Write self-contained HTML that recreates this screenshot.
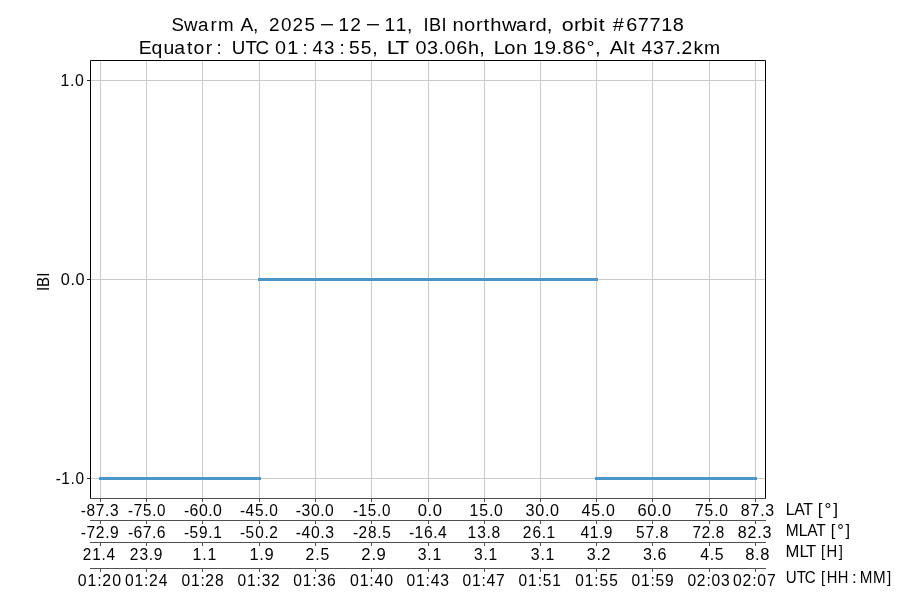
<!DOCTYPE html>
<html><head><meta charset="utf-8"><title>IBI plot</title>
<style>html,body{margin:0;padding:0;background:#fff;width:900px;height:600px;overflow:hidden}svg{display:block;will-change:transform}text{font-family:"Liberation Sans",sans-serif}</style>
</head><body><svg width="900" height="600" viewBox="0 0 900 600"><rect width="900" height="600" fill="#fff"/><line x1="100.5" y1="60" x2="100.5" y2="499" stroke="#cbcbcb" stroke-width="1"/><line x1="146.5" y1="60" x2="146.5" y2="499" stroke="#cbcbcb" stroke-width="1"/><line x1="202.5" y1="60" x2="202.5" y2="499" stroke="#cbcbcb" stroke-width="1"/><line x1="259.5" y1="60" x2="259.5" y2="499" stroke="#cbcbcb" stroke-width="1"/><line x1="315.5" y1="60" x2="315.5" y2="499" stroke="#cbcbcb" stroke-width="1"/><line x1="371.5" y1="60" x2="371.5" y2="499" stroke="#cbcbcb" stroke-width="1"/><line x1="428.5" y1="60" x2="428.5" y2="499" stroke="#cbcbcb" stroke-width="1"/><line x1="484.5" y1="60" x2="484.5" y2="499" stroke="#cbcbcb" stroke-width="1"/><line x1="540.5" y1="60" x2="540.5" y2="499" stroke="#cbcbcb" stroke-width="1"/><line x1="596.5" y1="60" x2="596.5" y2="499" stroke="#cbcbcb" stroke-width="1"/><line x1="652.5" y1="60" x2="652.5" y2="499" stroke="#cbcbcb" stroke-width="1"/><line x1="709.5" y1="60" x2="709.5" y2="499" stroke="#cbcbcb" stroke-width="1"/><line x1="755.5" y1="60" x2="755.5" y2="499" stroke="#cbcbcb" stroke-width="1"/><line x1="90" y1="80.5" x2="766" y2="80.5" stroke="#cbcbcb" stroke-width="1"/><line x1="90" y1="279.5" x2="766" y2="279.5" stroke="#cbcbcb" stroke-width="1"/><line x1="90" y1="478.5" x2="766" y2="478.5" stroke="#cbcbcb" stroke-width="1"/><line x1="100.5" y1="478.5" x2="259.5" y2="478.5" stroke="#4a96c9" stroke-width="3" stroke-linecap="square"/><line x1="259.5" y1="279.5" x2="596.5" y2="279.5" stroke="#4a96c9" stroke-width="3" stroke-linecap="square"/><line x1="596.5" y1="478.5" x2="755.5" y2="478.5" stroke="#4a96c9" stroke-width="3" stroke-linecap="square"/><path d="M90.5 498 V60.5 H765.5 V498" fill="none" stroke="#000" stroke-width="1"/><line x1="90" y1="498.5" x2="766" y2="498.5" stroke="#505050" stroke-width="1"/><line x1="87" y1="80.5" x2="90" y2="80.5" stroke="#222" stroke-width="1"/><line x1="87" y1="279.5" x2="90" y2="279.5" stroke="#222" stroke-width="1"/><line x1="87" y1="478.5" x2="90" y2="478.5" stroke="#222" stroke-width="1"/><line x1="90" y1="520.5" x2="766" y2="520.5" stroke="#505050" stroke-width="1"/><line x1="90" y1="542.5" x2="766" y2="542.5" stroke="#505050" stroke-width="1"/><line x1="90" y1="568.5" x2="766" y2="568.5" stroke="#505050" stroke-width="1"/><line x1="100.5" y1="499" x2="100.5" y2="502" stroke="#505050" stroke-width="1"/><line x1="146.5" y1="499" x2="146.5" y2="502" stroke="#505050" stroke-width="1"/><line x1="202.5" y1="499" x2="202.5" y2="502" stroke="#505050" stroke-width="1"/><line x1="259.5" y1="499" x2="259.5" y2="502" stroke="#505050" stroke-width="1"/><line x1="315.5" y1="499" x2="315.5" y2="502" stroke="#505050" stroke-width="1"/><line x1="371.5" y1="499" x2="371.5" y2="502" stroke="#505050" stroke-width="1"/><line x1="428.5" y1="499" x2="428.5" y2="502" stroke="#505050" stroke-width="1"/><line x1="484.5" y1="499" x2="484.5" y2="502" stroke="#505050" stroke-width="1"/><line x1="540.5" y1="499" x2="540.5" y2="502" stroke="#505050" stroke-width="1"/><line x1="596.5" y1="499" x2="596.5" y2="502" stroke="#505050" stroke-width="1"/><line x1="652.5" y1="499" x2="652.5" y2="502" stroke="#505050" stroke-width="1"/><line x1="709.5" y1="499" x2="709.5" y2="502" stroke="#505050" stroke-width="1"/><line x1="755.5" y1="499" x2="755.5" y2="502" stroke="#505050" stroke-width="1"/><line x1="100.5" y1="521" x2="100.5" y2="524" stroke="#505050" stroke-width="1"/><line x1="146.5" y1="521" x2="146.5" y2="524" stroke="#505050" stroke-width="1"/><line x1="202.5" y1="521" x2="202.5" y2="524" stroke="#505050" stroke-width="1"/><line x1="259.5" y1="521" x2="259.5" y2="524" stroke="#505050" stroke-width="1"/><line x1="315.5" y1="521" x2="315.5" y2="524" stroke="#505050" stroke-width="1"/><line x1="371.5" y1="521" x2="371.5" y2="524" stroke="#505050" stroke-width="1"/><line x1="428.5" y1="521" x2="428.5" y2="524" stroke="#505050" stroke-width="1"/><line x1="484.5" y1="521" x2="484.5" y2="524" stroke="#505050" stroke-width="1"/><line x1="540.5" y1="521" x2="540.5" y2="524" stroke="#505050" stroke-width="1"/><line x1="596.5" y1="521" x2="596.5" y2="524" stroke="#505050" stroke-width="1"/><line x1="652.5" y1="521" x2="652.5" y2="524" stroke="#505050" stroke-width="1"/><line x1="709.5" y1="521" x2="709.5" y2="524" stroke="#505050" stroke-width="1"/><line x1="755.5" y1="521" x2="755.5" y2="524" stroke="#505050" stroke-width="1"/><line x1="100.5" y1="543" x2="100.5" y2="546" stroke="#505050" stroke-width="1"/><line x1="146.5" y1="543" x2="146.5" y2="546" stroke="#505050" stroke-width="1"/><line x1="202.5" y1="543" x2="202.5" y2="546" stroke="#505050" stroke-width="1"/><line x1="259.5" y1="543" x2="259.5" y2="546" stroke="#505050" stroke-width="1"/><line x1="315.5" y1="543" x2="315.5" y2="546" stroke="#505050" stroke-width="1"/><line x1="371.5" y1="543" x2="371.5" y2="546" stroke="#505050" stroke-width="1"/><line x1="428.5" y1="543" x2="428.5" y2="546" stroke="#505050" stroke-width="1"/><line x1="484.5" y1="543" x2="484.5" y2="546" stroke="#505050" stroke-width="1"/><line x1="540.5" y1="543" x2="540.5" y2="546" stroke="#505050" stroke-width="1"/><line x1="596.5" y1="543" x2="596.5" y2="546" stroke="#505050" stroke-width="1"/><line x1="652.5" y1="543" x2="652.5" y2="546" stroke="#505050" stroke-width="1"/><line x1="709.5" y1="543" x2="709.5" y2="546" stroke="#505050" stroke-width="1"/><line x1="755.5" y1="543" x2="755.5" y2="546" stroke="#505050" stroke-width="1"/><line x1="100.5" y1="569" x2="100.5" y2="572" stroke="#505050" stroke-width="1"/><line x1="146.5" y1="569" x2="146.5" y2="572" stroke="#505050" stroke-width="1"/><line x1="202.5" y1="569" x2="202.5" y2="572" stroke="#505050" stroke-width="1"/><line x1="259.5" y1="569" x2="259.5" y2="572" stroke="#505050" stroke-width="1"/><line x1="315.5" y1="569" x2="315.5" y2="572" stroke="#505050" stroke-width="1"/><line x1="371.5" y1="569" x2="371.5" y2="572" stroke="#505050" stroke-width="1"/><line x1="428.5" y1="569" x2="428.5" y2="572" stroke="#505050" stroke-width="1"/><line x1="484.5" y1="569" x2="484.5" y2="572" stroke="#505050" stroke-width="1"/><line x1="540.5" y1="569" x2="540.5" y2="572" stroke="#505050" stroke-width="1"/><line x1="596.5" y1="569" x2="596.5" y2="572" stroke="#505050" stroke-width="1"/><line x1="652.5" y1="569" x2="652.5" y2="572" stroke="#505050" stroke-width="1"/><line x1="709.5" y1="569" x2="709.5" y2="572" stroke="#505050" stroke-width="1"/><line x1="755.5" y1="569" x2="755.5" y2="572" stroke="#505050" stroke-width="1"/><g font-family="Liberation Sans, sans-serif" fill="#000"><text transform="translate(173.00,30.7) scale(1.0069,1)" x="-1.53 11.01 24.88 37.32 44.62" y="0" font-size="18.6">Swarm</text><text transform="translate(241.00,30.7) scale(1.0308,1)" x="-0.45 11.63" y="0" font-size="18.6">A,</text><text transform="translate(270.00,30.7) scale(1.0142,1)" x="-0.95 10.87 22.20 33.93" y="0" font-size="18.6">2025</text><text transform="translate(321.00,30.7) scale(1.3302,1)" x="-0.93" y="0" font-size="18.6">−</text><text transform="translate(340.00,30.7) scale(1.0257,1)" x="-1.41 10.09" y="0" font-size="18.6">12</text><text transform="translate(367.00,30.7) scale(1.3302,1)" x="-0.93" y="0" font-size="18.6">−</text><text transform="translate(386.00,30.7) scale(1.0292,1)" x="-1.58 9.59 20.38" y="0" font-size="18.6">11,</text><text transform="translate(425.00,30.7) scale(0.9814,1)" x="-1.63 3.98 16.89" y="0" font-size="18.6">IBI</text><text transform="translate(454.00,30.7) scale(1.0850,1)" x="-1.28 9.24 20.31 27.26 33.43 44.15 57.19 68.95 75.05 85.54" y="0" font-size="18.6">northward,</text><text transform="translate(563.00,30.7) scale(1.1514,1)" x="-1.09 9.57 15.75 26.21 31.06" y="0" font-size="18.6">orbit</text><text transform="translate(612.00,30.7) scale(1.0709,1)" x="0.69 13.32 24.16 35.05 45.89 56.81" y="0" font-size="18.6">#67718</text><text transform="translate(141.30,53.8) scale(1.0418,1)" x="-2.38 9.90 21.22 31.67 43.83 50.23 61.76" y="0" font-size="18.6">Equator</text><text transform="translate(217.70,53.8) scale(1.0000,1)" x="-1.28" y="0" font-size="18.6">:</text><text transform="translate(233.30,53.8) scale(1.0089,1)" x="-1.50 11.98 22.03" y="0" font-size="18.6">UTC</text><text transform="translate(275.80,53.8) scale(1.0652,1)" x="-0.64 10.71" y="0" font-size="18.6">01</text><text transform="translate(303.75,53.8) scale(1.0000,1)" x="-1.31" y="0" font-size="18.6">:</text><text transform="translate(312.90,53.8) scale(1.0048,1)" x="-0.38 11.01" y="0" font-size="18.6">43</text><text transform="translate(340.80,53.8) scale(1.0000,1)" x="-1.31" y="0" font-size="18.6">:</text><text transform="translate(350.00,53.8) scale(1.0365,1)" x="-0.94 10.44 21.39" y="0" font-size="18.6">55,</text><text transform="translate(388.30,53.8) scale(1.2000,1)" x="-1.38 6.01" y="0" font-size="18.6">LT</text><text transform="translate(416.25,53.8) scale(1.0688,1)" x="-0.83 10.12 20.90 26.49 37.44 48.35 58.85" y="0" font-size="18.6">03.06h,</text><text transform="translate(495.40,53.8) scale(1.0828,1)" x="-1.61 8.07 19.14" y="0" font-size="18.6">Lon</text><text transform="translate(534.80,53.8) scale(1.0859,1)" x="-1.68 9.22 20.03 25.55 36.49 47.63 55.52" y="0" font-size="18.6">19.86°,</text><text transform="translate(610.40,53.8) scale(1.0939,1)" x="-0.55 11.82 16.94" y="0" font-size="18.6">Alt</text><text transform="translate(642.10,53.8) scale(1.0377,1)" x="-0.50 10.58 21.59 32.51 37.97 49.43 59.74" y="0" font-size="18.6">437.2km</text><text transform="translate(61.70,85.8) scale(0.9409,1)" x="-1.38 8.79 14.18" y="0" font-size="16.9">1.0</text><text transform="translate(61.50,284.8) scale(0.9620,1)" x="-0.68 9.26 14.48" y="0" font-size="16.9">0.0</text><text transform="translate(56.40,483.6) scale(0.9116,1)" x="-0.71 5.41 15.53 20.86" y="0" font-size="16.9">-1.0</text><text transform="translate(787.10,514.7) scale(0.9336,1)" x="-1.43 7.71 17.43" y="0" font-size="16.9">LAT</text><text transform="translate(819.10,514.7) scale(1.0187,1)" x="-1.24 5.36 14.02" y="0" font-size="16.9">[°]</text><text transform="translate(787.10,535.6) scale(0.9177,1)" x="-1.53 12.80 22.07 31.90" y="0" font-size="16.9">MLAT</text><text transform="translate(832.00,535.6) scale(0.9672,1)" x="-1.24 5.36 14.02" y="0" font-size="16.9">[°]</text><text transform="translate(787.10,556.9) scale(0.9836,1)" x="-1.56 12.69 19.15" y="0" font-size="16.9">MLT</text><text transform="translate(822.00,556.9) scale(0.8745,1)" x="-1.15 5.24 19.10" y="0" font-size="16.9">[H]</text><text transform="translate(786.90,582.7) scale(0.8954,1)" x="-1.36 10.89 20.02" y="0" font-size="16.9">UTC</text><text transform="translate(822.00,582.7) scale(0.8675,1)" x="-1.12 5.43 18.15" y="0" font-size="16.9">[HH</text><text transform="translate(853.30,582.7) scale(1.0000,1)" x="-1.22" y="0" font-size="16.9">:</text><text transform="translate(861.10,582.7) scale(0.8980,1)" x="-1.40 13.12 28.96" y="0" font-size="16.9">MM]</text><text transform="translate(81.50,515.7) scale(0.9139,1)" x="-0.70 5.44 15.74 25.83 31.19" y="0" font-size="16.9">-87.3</text><text transform="translate(128.70,515.7) scale(0.8990,1)" x="-0.69 5.55 15.85 26.07 31.47" y="0" font-size="16.9">-75.0</text><text transform="translate(184.60,515.7) scale(0.9398,1)" x="-0.76 5.25 15.26 25.13 30.28" y="0" font-size="16.9">-60.0</text><text transform="translate(240.60,515.7) scale(0.9167,1)" x="-0.71 5.47 15.68 25.83 31.17" y="0" font-size="16.9">-45.0</text><text transform="translate(296.50,515.7) scale(0.9253,1)" x="-0.72 5.43 15.62 25.64 30.93" y="0" font-size="16.9">-30.0</text><text transform="translate(353.50,515.7) scale(0.8995,1)" x="-0.68 5.56 15.95 26.20 31.65" y="0" font-size="16.9">-15.0</text><text transform="translate(418.40,515.7) scale(0.9836,1)" x="-0.68 9.26 14.48" y="0" font-size="16.9">0.0</text><text transform="translate(470.80,515.7) scale(0.9353,1)" x="-1.32 9.14 19.45 24.94" y="0" font-size="16.9">15.0</text><text transform="translate(526.30,515.7) scale(0.9600,1)" x="-0.78 9.44 19.48 24.80" y="0" font-size="16.9">30.0</text><text transform="translate(581.90,515.7) scale(0.9432,1)" x="-0.34 9.91 20.09 25.47" y="0" font-size="16.9">45.0</text><text transform="translate(638.20,515.7) scale(0.9777,1)" x="-0.77 9.24 19.12 24.28" y="0" font-size="16.9">60.0</text><text transform="translate(695.80,515.7) scale(0.9282,1)" x="-0.85 9.52 19.77 25.23" y="0" font-size="16.9">75.0</text><text transform="translate(741.50,515.7) scale(0.9428,1)" x="-0.68 9.67 19.79 25.19" y="0" font-size="16.9">87.3</text><text transform="translate(81.50,537.7) scale(0.9238,1)" x="-0.71 5.42 15.48 25.73 30.99" y="0" font-size="16.9">-72.9</text><text transform="translate(128.70,537.7) scale(0.9292,1)" x="-0.76 5.24 15.21 25.10 30.26" y="0" font-size="16.9">-67.6</text><text transform="translate(184.60,537.7) scale(0.9114,1)" x="-0.69 5.49 15.87 26.05 31.40" y="0" font-size="16.9">-59.1</text><text transform="translate(240.60,537.7) scale(0.9110,1)" x="-0.68 5.52 16.00 26.16 31.38" y="0" font-size="16.9">-50.2</text><text transform="translate(296.50,537.7) scale(0.9310,1)" x="-0.72 5.40 15.61 25.62 30.93" y="0" font-size="16.9">-40.3</text><text transform="translate(353.50,537.7) scale(0.9094,1)" x="-0.68 5.38 15.94 26.14 31.49" y="0" font-size="16.9">-28.5</text><text transform="translate(409.60,537.7) scale(0.9253,1)" x="-0.73 5.28 15.50 25.45 30.67" y="0" font-size="16.9">-16.4</text><text transform="translate(468.80,537.7) scale(0.9214,1)" x="-1.36 9.10 19.24 24.62" y="0" font-size="16.9">13.8</text><text transform="translate(523.70,537.7) scale(0.9172,1)" x="-0.94 9.59 19.65 24.95" y="0" font-size="16.9">26.1</text><text transform="translate(580.80,537.7) scale(0.9209,1)" x="-0.39 9.75 19.83 25.05" y="0" font-size="16.9">41.9</text><text transform="translate(636.70,537.7) scale(0.9129,1)" x="-0.83 9.64 19.84 25.24" y="0" font-size="16.9">57.8</text><text transform="translate(693.40,537.7) scale(0.9015,1)" x="-0.88 9.26 19.59 24.93" y="0" font-size="16.9">72.8</text><text transform="translate(738.40,537.7) scale(0.9510,1)" x="-0.66 9.53 19.88 25.30" y="0" font-size="16.9">82.3</text><text transform="translate(83.60,560.3) scale(0.9079,1)" x="-0.91 9.63 19.85 25.27" y="0" font-size="16.9">21.4</text><text transform="translate(130.70,560.3) scale(0.9214,1)" x="-0.94 9.60 19.68 24.99" y="0" font-size="16.9">23.9</text><text transform="translate(193.70,560.3) scale(0.9406,1)" x="-1.29 9.06 14.56" y="0" font-size="16.9">1.1</text><text transform="translate(250.80,560.3) scale(0.9786,1)" x="-1.41 8.69 13.95" y="0" font-size="16.9">1.9</text><text transform="translate(306.30,560.3) scale(0.9343,1)" x="-0.83 9.72 15.24" y="0" font-size="16.9">2.5</text><text transform="translate(362.30,560.3) scale(0.9863,1)" x="-0.98 9.25 14.49" y="0" font-size="16.9">2.9</text><text transform="translate(418.40,560.3) scale(0.9359,1)" x="-0.68 9.56 15.02" y="0" font-size="16.9">3.1</text><text transform="translate(474.70,560.3) scale(0.9231,1)" x="-0.68 9.56 15.02" y="0" font-size="16.9">3.1</text><text transform="translate(531.50,560.3) scale(0.9401,1)" x="-0.68 9.56 15.02" y="0" font-size="16.9">3.1</text><text transform="translate(587.50,560.3) scale(0.9483,1)" x="-0.69 9.52 14.80" y="0" font-size="16.9">3.2</text><text transform="translate(643.70,560.3) scale(0.9551,1)" x="-0.82 9.13 14.39" y="0" font-size="16.9">3.6</text><text transform="translate(700.40,560.3) scale(0.9379,1)" x="-0.30 9.87 15.23" y="0" font-size="16.9">4.5</text><text transform="translate(746.10,560.3) scale(0.9801,1)" x="-0.77 9.20 14.36" y="0" font-size="16.9">8.8</text><text transform="translate(78.40,585.9) scale(0.9403,1)" x="-0.60 9.67 20.02 25.33 35.88" y="0" font-size="16.9">01:20</text><text transform="translate(125.60,585.9) scale(0.9263,1)" x="-0.60 9.66 20.00 25.31 35.84" y="0" font-size="16.9">01:24</text><text transform="translate(182.00,585.9) scale(0.9237,1)" x="-0.60 9.66 20.00 25.31 35.81" y="0" font-size="16.9">01:28</text><text transform="translate(238.00,585.9) scale(0.9184,1)" x="-0.56 9.81 20.23 25.85 36.05" y="0" font-size="16.9">01:32</text><text transform="translate(293.90,585.9) scale(0.9289,1)" x="-0.63 9.55 19.83 25.31 35.57" y="0" font-size="16.9">01:36</text><text transform="translate(350.70,585.9) scale(0.9434,1)" x="-0.64 9.52 19.79 25.22 35.46" y="0" font-size="16.9">01:40</text><text transform="translate(407.00,585.9) scale(0.9283,1)" x="-0.60 9.65 19.99 25.49 35.84" y="0" font-size="16.9">01:43</text><text transform="translate(463.00,585.9) scale(0.9253,1)" x="-0.61 9.62 19.94 25.43 35.72" y="0" font-size="16.9">01:47</text><text transform="translate(519.00,585.9) scale(0.9125,1)" x="-0.52 9.94 20.42 26.01 36.55" y="0" font-size="16.9">01:51</text><text transform="translate(575.60,585.9) scale(0.9136,1)" x="-0.51 10.00 20.52 26.14 36.71" y="0" font-size="16.9">01:55</text><text transform="translate(632.00,585.9) scale(0.9225,1)" x="-0.59 9.69 20.05 25.51 35.88" y="0" font-size="16.9">01:59</text><text transform="translate(688.00,585.9) scale(0.9222,1)" x="-0.61 9.49 19.97 25.48 35.81" y="0" font-size="16.9">02:03</text><text transform="translate(733.60,585.9) scale(0.9328,1)" x="-0.61 9.46 19.92 25.42 35.69" y="0" font-size="16.9">02:07</text><text transform="translate(48.6,281.9) rotate(-90)" font-size="16.9" text-anchor="middle" textLength="18.46" lengthAdjust="spacingAndGlyphs">IBI</text></g></svg></body></html>
